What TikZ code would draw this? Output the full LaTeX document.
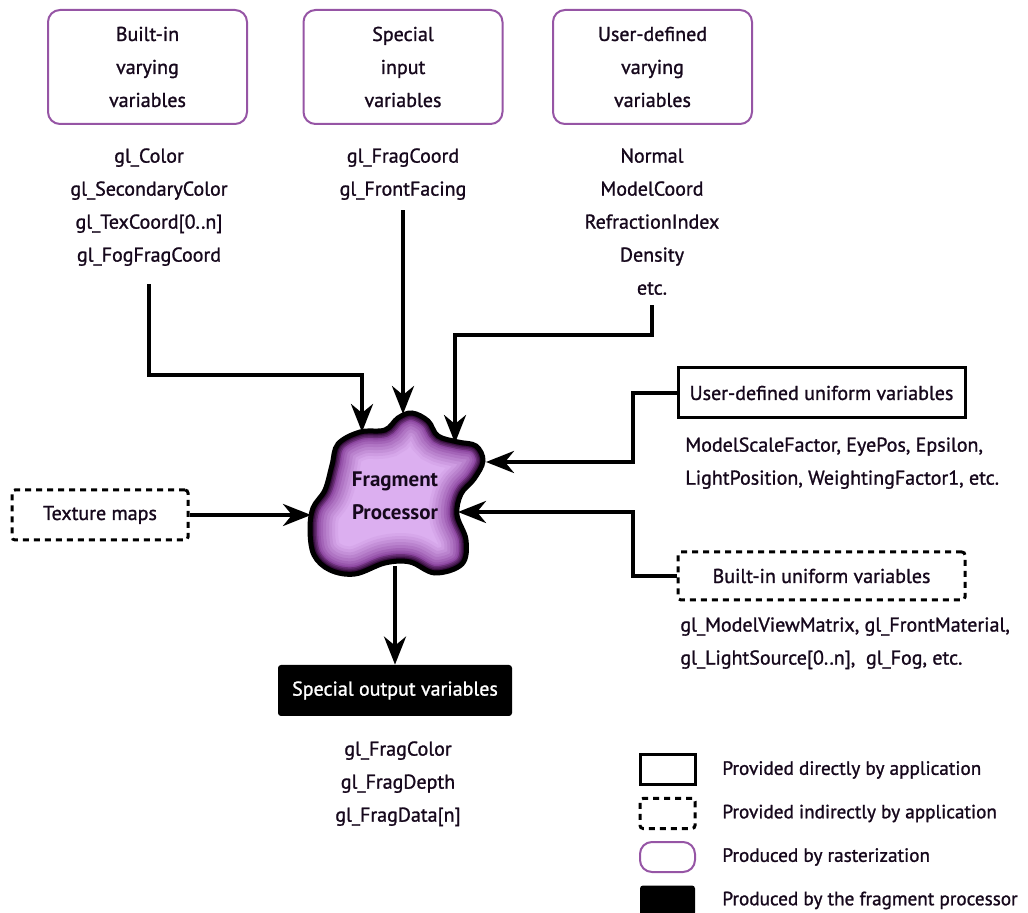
\documentclass[tikz,border=0pt]{standalone}
\usepackage{fontspec}
\setmainfont{PT Sans}[UprightFeatures={FakeBold=1.2}]
\usetikzlibrary{arrows.meta}

% Colours
\definecolor{rastline}{RGB}{150,85,165}
\definecolor{fplight}{RGB}{220,175,240}
\definecolor{fpmid}{RGB}{140,70,160}
\definecolor{fpdark}{RGB}{45,8,50}
\definecolor{ink}{RGB}{22,8,28}

% Outline of the processor blob
\def\fpblob{plot[smooth cycle, tension=0.6] coordinates {
    (412,413) (428,421) (438,436) (458,442) (476,446) (483,461) (474,479)
    (461,494) (457,515) (466,540) (462,564) (435,573) (410,562) (385,563)
    (355,574) (330,570) (314,555) (310,530) (313,508) (325,490) (332,465)
    (338,444) (360,432) (385,430) (398,418)}}

\tikzset{
  rastbox/.style={draw=rastline, line width=1pt, rounded corners=6pt, minimum width=99.5pt, minimum height=57pt, align=center},
  appbox/.style={draw=black, line width=1.5pt, minimum width=143.5pt, minimum height=25pt},
  indbox/.style={draw=black, line width=1.5pt, dash pattern=on 3pt off 2.5pt, rounded corners=1.5pt, minimum height=24pt},
  prodbox/.style={fill=black, rounded corners=1.5pt, text=white, minimum width=117pt, minimum height=25.5pt},
  varlist/.style={align=center, inner sep=0pt},
  arr/.style={line width=2pt, -{Stealth[length=14pt, width=11pt, inset=4.5pt]}},
}

\begin{document}
\begin{tikzpicture}[x=0.5pt, y=-0.5pt, text=ink, font=\fontsize{10}{16.5}\selectfont]
\useasboundingbox (0,0) rectangle (1028,913);

% Input sources along the top
\node[rastbox] (bvbox) at (147.5,67) {Built-in\\varying\\variables};
\node[rastbox] (sibox) at (403,67) {Special\\input\\variables};
\node[rastbox] (udbox) at (652.5,67) {User-defined\\varying\\variables};

\node[varlist, anchor=north] (bvlist) at (149,148) {gl\_Color\\gl\_SecondaryColor\\gl\_TexCoord[0..n]\\gl\_FogFragCoord};
\node[varlist, anchor=north] (silist) at (403,148) {gl\_FragCoord\\gl\_FrontFacing};
\node[varlist, anchor=north] (udlist) at (652,148) {Normal\\ModelCoord\\RefractionIndex\\Density\\etc.};

% Fragment processor blob: light inside, dark rim, black edge
\fill[fplight] \fpblob;
\begin{scope}
  \clip \fpblob;
  \foreach \w/\mix in {28/8, 25/18, 22/30, 19/42, 16/55, 13/70, 10.5/85, 8.5/100} {
    \draw[line width=\w pt, fpmid!\mix!fplight] \fpblob;
  }
  \foreach \w/\mix in {7/35, 5.5/60, 4/85, 3/100} {
    \draw[line width=\w pt, fpdark!\mix!fpmid] \fpblob;
  }
\end{scope}
\draw[line width=2.5pt, black] \fpblob;
\node[align=center, font=\fontsize{10.5}{16.5}\selectfont\bfseries] (fp) at (395,496) {Fragment\\Processor};

% Where the arrows meet the blob
\coordinate (tipa) at (362,432);
\coordinate (tipb) at (403,414);
\coordinate (tipc) at (455,443);
\coordinate (tipd) at (486,462);
\coordinate (tipe) at (458,512);
\coordinate (tipf) at (311,515);
\coordinate (fpbase) at (395,566);

% Uniforms on the right
\node[appbox] (udubox) at (821.5,393) {User-defined uniform variables};
\node[varlist, align=left, anchor=north west] (udulist) at (685,437) {ModelScaleFactor, EyePos, Epsilon,\\LightPosition, WeightingFactor1, etc.};

\node[indbox, minimum width=143.5pt] (biubox) at (821.5,576) {Built-in uniform variables};
\node[varlist, align=left, anchor=north west] (biulist) at (680,617) {gl\_ModelViewMatrix, gl\_FrontMaterial,\\gl\_LightSource[0..n],\ \ gl\_Fog, etc.};

% Texture maps on the left
\node[indbox, minimum width=88pt, minimum height=25pt] (texbox) at (100,515) {Texture maps};

% Outputs below
\node[prodbox] (spovars) at (395,690.5) {Special output variables};
\node[varlist, anchor=north] (outlist) at (398,741) {gl\_FragColor\\gl\_FragDepth\\gl\_FragData[n]};

% Connectors
\coordinate (bvbend) at (362,375);
\coordinate (udbend) at (455,335);
\coordinate (udujog) at (633,462);
\coordinate (biujog) at (633,512);

\draw[arr] ([yshift=-9pt]bvlist.south) |- (bvbend) -- (tipa);
\draw[arr] ([yshift=-5pt]silist.south) -- (tipb);
\draw[arr] ([yshift=-5pt]udlist.south) |- (udbend) -- (tipc);
\draw[arr] (udubox.west) -| (udujog) -- (tipd);
\draw[arr] (biubox.west) -| (biujog) -- (tipe);
\draw[arr] (texbox.east) -- (tipf);
\draw[arr] (fpbase) -- (spovars.north);

% Legend
\foreach \boxstyle/\legtext [count=\k] in {appbox/Provided directly by application,
    indbox/Provided indirectly by application,
    rastbox/Produced by rasterization,
    prodbox/Produced by the fragment processor} {
  \node[\boxstyle, minimum width=27.5pt, minimum height=15pt] (key\k) at (667.5,{770+43.5*(\k-1)}) {};
  \node[anchor=west, inner sep=0pt, font=\fontsize{9.6}{12}\selectfont] (keytext\k) at (722,{770+43.5*(\k-1)}) {\legtext};
}
\end{tikzpicture}
\end{document}
